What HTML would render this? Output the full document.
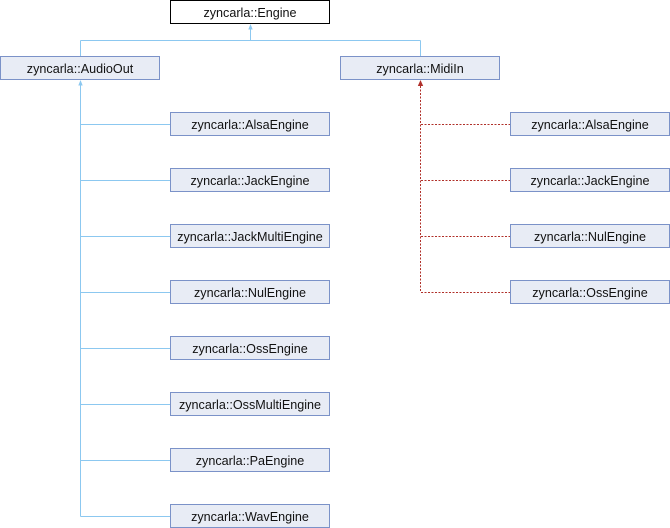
<!DOCTYPE html>
<html>
<head>
<meta charset="utf-8">
<style>
html,body{margin:0;padding:0;background:#fff;width:670px;height:528px;overflow:hidden;}
svg{display:block;}
text{font-family:"Liberation Sans",Arial,sans-serif;font-size:12.6px;fill:#111;text-anchor:middle;}
.b{fill:#E8ECF5;stroke:#7B92C8;stroke-width:1;}
.w{fill:#fff;stroke:#000;stroke-width:1;}
.bl{stroke:#8CC8F0;stroke-width:1;fill:none;}
.rd{stroke:#B0302A;stroke-width:1;fill:none;stroke-dasharray:2,1.5;}
</style>
</head>
<body>
<svg width="670" height="528" viewBox="0 0 670 528" xmlns="http://www.w3.org/2000/svg">
<!-- blue connectors -->
<path class="bl" d="M250.5,28 V40.5 M80.5,40.5 H420.5 M80.5,40.5 V56 M420.5,40.5 V56"/>
<polygon points="250.5,24 248.3,29.5 252.7,29.5" fill="#8CC8F0"/>
<path class="bl" d="M80.5,84 V516.5
 M80.5,124.5 H170 M80.5,180.5 H170 M80.5,236.5 H170 M80.5,292.5 H170
 M80.5,348.5 H170 M80.5,404.5 H170 M80.5,460.5 H170 M80.5,516.5 H170"/>
<polygon points="80.5,80 78.3,85.5 82.7,85.5" fill="#8CC8F0"/>
<!-- red dotted connectors -->
<path class="rd" d="M420.5,86 V292.5 M421,124.5 H510 M421,180.5 H510 M421,236.5 H510 M421,292.5 H510"/>
<polygon points="420.5,80 417.8,86 423.2,86" fill="#B0302A"/>

<!-- Engine -->
<rect class="w" x="170.5" y="0.5" width="159" height="23"/>
<text x="250" y="17">zyncarla::Engine</text>

<!-- AudioOut / MidiIn -->
<rect class="b" x="0.5" y="56.5" width="159" height="23"/>
<text x="80" y="73">zyncarla::AudioOut</text>
<rect class="b" x="340.5" y="56.5" width="159" height="23"/>
<text x="420" y="73">zyncarla::MidiIn</text>

<!-- left children -->
<rect class="b" x="170.5" y="112.5" width="159" height="23"/>
<text x="250" y="129">zyncarla::AlsaEngine</text>
<rect class="b" x="170.5" y="168.5" width="159" height="23"/>
<text x="250" y="185">zyncarla::JackEngine</text>
<rect class="b" x="170.5" y="224.5" width="159" height="23"/>
<text x="250" y="241">zyncarla::JackMultiEngine</text>
<rect class="b" x="170.5" y="280.5" width="159" height="23"/>
<text x="250" y="297">zyncarla::NulEngine</text>
<rect class="b" x="170.5" y="336.5" width="159" height="23"/>
<text x="250" y="353">zyncarla::OssEngine</text>
<rect class="b" x="170.5" y="392.5" width="159" height="23"/>
<text x="250" y="409">zyncarla::OssMultiEngine</text>
<rect class="b" x="170.5" y="448.5" width="159" height="23"/>
<text x="250" y="465">zyncarla::PaEngine</text>
<rect class="b" x="170.5" y="504.5" width="159" height="23"/>
<text x="250" y="521">zyncarla::WavEngine</text>

<!-- right children -->
<rect class="b" x="510.5" y="112.5" width="159" height="23"/>
<text x="590" y="129">zyncarla::AlsaEngine</text>
<rect class="b" x="510.5" y="168.5" width="159" height="23"/>
<text x="590" y="185">zyncarla::JackEngine</text>
<rect class="b" x="510.5" y="224.5" width="159" height="23"/>
<text x="590" y="241">zyncarla::NulEngine</text>
<rect class="b" x="510.5" y="280.5" width="159" height="23"/>
<text x="590" y="297">zyncarla::OssEngine</text>
</svg>
</body>
</html>
